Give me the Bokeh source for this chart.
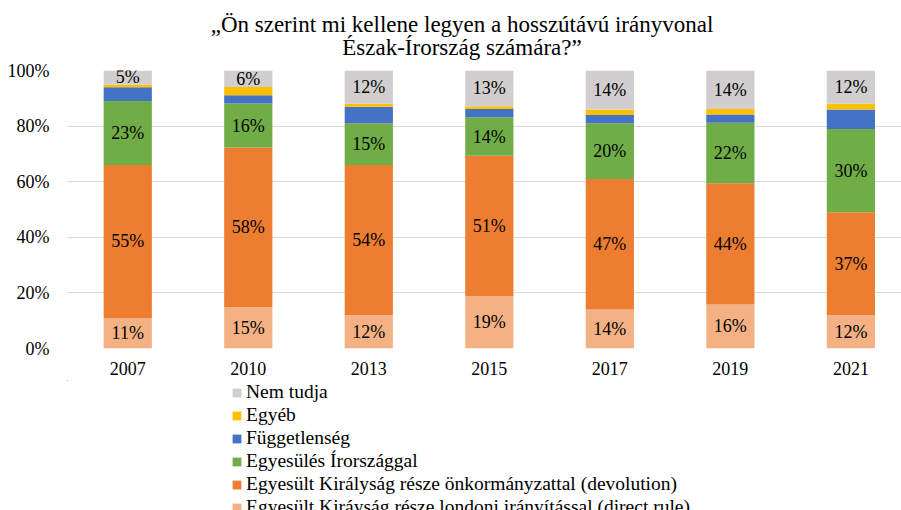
from bokeh.plotting import figure
from bokeh.layouts import column
from bokeh.models import ColumnDataSource, Range1d, FixedTicker, Legend, LegendItem, Label
from bokeh.core.properties import value
from bokeh.embed import file_html
from bokeh.resources import INLINE

title_lines = ["„Ön szerint mi kellene legyen a hosszútávú irányvonal",
               "Észak-Írország számára?”"]
years = ["2007", "2010", "2013", "2015", "2017", "2019", "2021"]
direct_rule = [11, 15, 12, 19, 14, 16, 12]
devolution = [55, 58, 54, 51, 47, 44, 37]
unification = [23, 16, 15, 14, 20, 22, 30]
independence = [5, 3, 6, 3, 3, 3, 7]
other = [1, 3, 1, 1, 2, 2, 2]
dont_know = [5, 6, 12, 13, 14, 14, 12]

series_names = [
    "Egyesült Kiráyság része londoni irányítással (direct rule)",
    "Egyesült Királyság része önkormányzattal (devolution)",
    "Egyesülés Írországgal",
    "Függetlenség",
    "Egyéb",
    "Nem tudja",
]
series_vals = [direct_rule, devolution, unification, independence, other, dont_know]
colors = ["#F4B183", "#ED7D31", "#70AD47", "#4472C4", "#FFC000", "#D0CECE"]
labelled = [True, True, True, False, False, True]

FONT = "Liberation Serif"

n = len(years)
totals = [sum(s[i] for s in series_vals) for i in range(n)]
keys = ["s%d" % k for k in range(len(series_vals))]
data = {"x": list(range(n))}
for k, s in zip(keys, series_vals):
    data[k] = [s[i] / totals[i] * 100 for i in range(n)]
source = ColumnDataSource(data)

# title panel
p0 = figure(width=901, height=60, output_backend="svg", toolbar_location=None,
            x_range=Range1d(0, 1), y_range=Range1d(0, 1),
            x_axis_location=None, y_axis_location=None, min_border=0)
p0.outline_line_color = None
p0.grid.visible = False
for txt, yy in zip(title_lines, [36, 13]):
    p0.add_layout(Label(x=394.5, y=yy, x_units="screen", y_units="screen", text=txt,
                        text_align="center", text_baseline="alphabetic",
                        text_font=FONT, text_font_size="23px", text_color="#000000"))

# main chart
p = figure(width=901, height=320, output_backend="svg", toolbar_location=None,
           x_range=Range1d(-0.5, 6.42), y_range=Range1d(0, 100),
           min_border_left=67, min_border_right=0, min_border_top=10, min_border_bottom=32)
p.outline_line_color = None
p.background_fill_color = "white"

renderers = p.vbar_stack(keys, x="x", width=0.4, color=colors, line_color=None, source=source)

for idx, (k, s) in enumerate(zip(keys, series_vals)):
    if not labelled[idx]:
        continue
    xs, ys, txt = [], [], []
    for i in range(n):
        base = sum(data[kk][i] for kk in keys[:idx])
        xs.append(i)
        ys.append(base + data[k][i] / 2)
        txt.append("%d%%" % s[i])
    p.text(x=xs, y=ys, text=txt, text_align="center", text_baseline="middle",
           text_font=value(FONT), text_font_size="18px", text_color="#000000")

p.xaxis.ticker = FixedTicker(ticks=list(range(n)))
p.xaxis.major_label_overrides = {i: y for i, y in enumerate(years)}
p.yaxis.ticker = FixedTicker(ticks=[0, 20, 40, 60, 80, 100])
p.yaxis.major_label_overrides = {t: "%d%%" % t for t in [0, 20, 40, 60, 80, 100]}
for ax in (p.xaxis[0], p.yaxis[0]):
    ax.axis_line_color = None
    ax.major_tick_line_color = None
    ax.minor_tick_line_color = None
    ax.major_tick_out = 0
    ax.major_tick_in = 0
    ax.major_label_text_font = FONT
    ax.major_label_text_font_size = "18px"
    ax.major_label_text_color = "#000000"
p.yaxis.major_label_standoff = 18
p.xaxis.major_label_standoff = 13
p.xgrid.grid_line_color = None
p.ygrid.grid_line_color = "#D9D9D9"
p.ygrid.grid_line_width = 1

# legend panel (its own zero-width bars use the same data and lie outside its visible ranges)
p2 = figure(width=901, height=130, output_backend="svg", toolbar_location=None,
            x_range=Range1d(50, 51), y_range=Range1d(-200, -199),
            x_axis_location=None, y_axis_location=None, min_border=0)
p2.outline_line_color = None
p2.grid.visible = False
legend_renderers = p2.vbar_stack(keys, x="x", width=0.0, color=colors, line_color=None, source=source)
items = [LegendItem(label=series_names[k], renderers=[legend_renderers[k]])
         for k in reversed(range(len(series_names)))]
legend = Legend(items=items, location=(164, -8.5), orientation="vertical",
                label_text_font=FONT, label_text_font_size="19.5px", label_text_color="#000000",
                glyph_width=11, glyph_height=11, label_height=23, label_standoff=4,
                spacing=0, padding=0, margin=0, background_fill_alpha=0, border_line_color=None)
p2.add_layout(legend)

layout = column(p0, p, p2, spacing=0)
open("out.html", "w").write(file_html(layout, INLINE))
